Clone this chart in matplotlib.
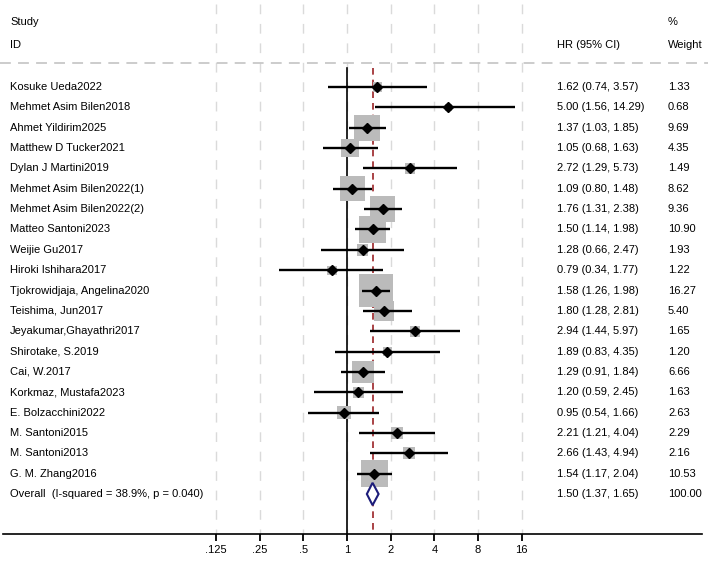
import numpy as np
import matplotlib
matplotlib.use("Agg")
import matplotlib.pyplot as plt
from matplotlib.patches import Polygon
import matplotlib.transforms as mtransforms

plt.rcParams['font.family'] = ['Liberation Sans', 'DejaVu Sans']

studies = ["Kosuke Ueda2022", "Mehmet Asim Bilen2018", "Ahmet Yildirim2025",
           "Matthew D Tucker2021", "Dylan J Martini2019", "Mehmet Asim Bilen2022(1)",
           "Mehmet Asim Bilen2022(2)", "Matteo Santoni2023", "Weijie Gu2017",
           "Hiroki Ishihara2017", "Tjokrowidjaja, Angelina2020", "Teishima, Jun2017",
           "Jeyakumar,Ghayathri2017", "Shirotake, S.2019", "Cai, W.2017",
           "Korkmaz, Mustafa2023", "E. Bolzacchini2022", "M. Santoni2015",
           "M. Santoni2013", "G. M. Zhang2016"]
hr = [1.62, 5.00, 1.37, 1.05, 2.72, 1.09, 1.76, 1.50, 1.28, 0.79,
      1.58, 1.80, 2.94, 1.89, 1.29, 1.20, 0.95, 2.21, 2.66, 1.54]
lo = [0.74, 1.56, 1.03, 0.68, 1.29, 0.80, 1.31, 1.14, 0.66, 0.34,
      1.26, 1.28, 1.44, 0.83, 0.91, 0.59, 0.54, 1.21, 1.43, 1.17]
hi = [3.57, 14.29, 1.85, 1.63, 5.73, 1.48, 2.38, 1.98, 2.47, 1.77,
      1.98, 2.81, 5.97, 4.35, 1.84, 2.45, 1.66, 4.04, 4.94, 2.04]
weight = [1.33, 0.68, 9.69, 4.35, 1.49, 8.62, 9.36, 10.90, 1.93, 1.22,
          16.27, 5.40, 1.65, 1.20, 6.66, 1.63, 2.63, 2.29, 2.16, 10.53]
overall_label = "Overall  (I-squared = 38.9%, p = 0.040)"
overall_hr, overall_lo, overall_hi, overall_w = 1.50, 1.37, 1.65, 100.00
tick_vals = [0.125, 0.25, 0.5, 1, 2, 4, 8, 16]
tick_labels = [".125", ".25", ".5", "1", "2", "4", "8", "16"]

W, H = 708, 564
fig = plt.figure(figsize=(W / 100, H / 100), dpi=100)
ax_left, ax_right, ax_bottom_px = 3, 702, 534
ax = fig.add_axes([ax_left / W, (H - ax_bottom_px) / H, (ax_right - ax_left) / W, ax_bottom_px / H])

px_per_oct = 43.7
x_one = 347
ax.set_xscale('log', base=2)
ax.set_xlim(2 ** ((ax_left - x_one) / px_per_oct), 2 ** ((ax_right - x_one) / px_per_oct))

row0_px, row_px = 87, 20.35
n = len(studies)
ax.set_ylim((ax_bottom_px - row0_px) / row_px, -row0_px / row_px)

def prow(p):
    return (p - row0_px) / row_px

# gridlines
for t in tick_vals:
    ax.plot([t, t], [prow(4), ax.get_ylim()[0]], color='#dadada', lw=1.0,
            dashes=(7, 7), zorder=0)

# horizontal separator
trans_fx = mtransforms.blended_transform_factory(fig.transFigure, ax.transData)
ax.plot([0, 1], [prow(63), prow(63)], transform=trans_fx, color='#c8c8c8', lw=1.3,
        dashes=(6, 4), zorder=1, clip_on=False)

ymax = ax.get_ylim()[0]
ax.plot([1, 1], [prow(68), ymax], color='black', lw=1.2, zorder=1)
ax.plot([overall_hr, overall_hr], [prow(68), ymax], color='#9b2226', lw=1.2,
        dashes=(4, 3), zorder=1)

ys = np.arange(n)
side_pt = 8.4 * np.sqrt(np.array(weight)) * 0.72
ax.scatter(hr, ys, marker='s', s=side_pt ** 2, color='#bbbbbb', linewidths=0, zorder=2)
ax.hlines(ys, lo, hi, color='black', lw=1.7, zorder=3)
ax.plot(hr, ys, linestyle='none', marker='D', markersize=4.6, color='black', zorder=4)

# overall diamond
yo = n
h = 0.55
diamond = Polygon([(overall_lo, yo), (overall_hr, yo - h), (overall_hi, yo), (overall_hr, yo + h)],
                  closed=True, facecolor='white', edgecolor='#1c1c7a', lw=1.5, zorder=4)
ax.add_patch(diamond)

# spines / ticks
for s in ['top', 'left', 'right']:
    ax.spines[s].set_visible(False)
ax.spines['bottom'].set_linewidth(1.2)
ax.set_yticks([])
ax.set_xticks(tick_vals)
ax.set_xticklabels(tick_labels)
ax.xaxis.set_minor_locator(matplotlib.ticker.NullLocator())
ax.tick_params(axis='x', direction='out', length=5, width=1.3, pad=3, labelsize=8)

fs = 8
# headers
fig.text(10 / W, 1 - 22 / H, "Study", fontsize=fs, va='center', ha='left')
fig.text(10 / W, 1 - 45 / H, "ID", fontsize=fs, va='center', ha='left')
fig.text(557 / W, 1 - 45 / H, "HR (95% CI)", fontsize=fs, va='center', ha='left')
fig.text(668 / W, 1 - 22 / H, "%", fontsize=fs, va='center', ha='left')
fig.text(668 / W, 1 - 45 / H, "Weight", fontsize=fs, va='center', ha='left')

for i in range(n):
    ax.text(10 / W, i, studies[i], transform=trans_fx, fontsize=fs, va='center', ha='left')
    ax.text(557 / W, i, f"{hr[i]:.2f} ({lo[i]:.2f}, {hi[i]:.2f})", transform=trans_fx,
            fontsize=fs, va='center', ha='left')
    ax.text(668 / W, i, f"{weight[i]:.2f}", transform=trans_fx, fontsize=fs, va='center', ha='left')
ax.text(10 / W, yo, overall_label, transform=trans_fx, fontsize=fs, va='center', ha='left')
ax.text(557 / W, yo, f"{overall_hr:.2f} ({overall_lo:.2f}, {overall_hi:.2f})", transform=trans_fx,
        fontsize=fs, va='center', ha='left')
ax.text(668 / W, yo, f"{overall_w:.2f}", transform=trans_fx, fontsize=fs, va='center', ha='left')

fig.savefig("out.png", dpi=100)
